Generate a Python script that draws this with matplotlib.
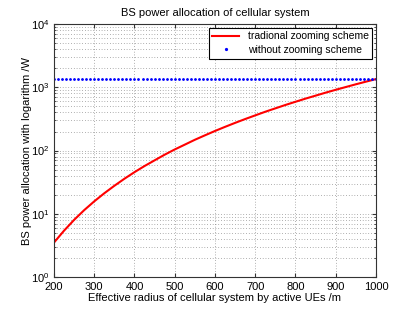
import matplotlib
matplotlib.use("Agg")
import matplotlib.pyplot as plt
import numpy as np
from matplotlib.ticker import LogLocator, MultipleLocator

plt.rcParams['font.family'] = ['Liberation Sans', 'DejaVu Sans']
plt.rcParams['mathtext.fontset'] = 'custom'
plt.rcParams['mathtext.rm'] = 'Liberation Sans'

# Data
radius = [200, 225, 250, 275, 300, 325, 350, 375, 400, 425, 450, 475, 500, 525, 550, 575,
          600, 625, 650, 675, 700, 725, 750, 775, 800, 825, 850, 875, 900, 925, 950, 975, 1000]
power_trad = [3.5, 5.4, 8.0, 11.4, 15.7, 21.1, 27.7, 35.8, 45.5, 56.9, 70.0, 86.0, 104.0, 124.0,
              148.0, 174.0, 204.0, 237.0, 274.0, 315.0, 360.0, 411.0, 465.0, 526.0, 591.0, 663.0,
              739.0, 824.0, 914.0, 1011.0, 1117.0, 1229.0, 1350.0]
radius_flat = list(range(200, 1001, 10))
power_flat_value = 1340.0
power_flat = [power_flat_value] * len(radius_flat)

title = "BS power allocation of cellular system"
xlabel = "Effective radius of cellular system by active UEs /m"
ylabel = "BS power allocation with logarithm /W"
labels = ["tradional zooming scheme", "without zooming scheme"]

fig = plt.figure(figsize=(4.15, 3.13), dpi=100)
ax = fig.add_axes([0.130, 0.115, 0.776, 0.808])

ax.plot(radius, power_trad, color='red', lw=1.5, label=labels[0])
ax.plot(radius_flat, power_flat, ls='none', marker='.', ms=2.0, color='blue', label=labels[1])

ax.set_yscale('log')
ax.set_xlim(200, 1000)
ax.set_ylim(1, 1e4)
ax.xaxis.set_major_locator(MultipleLocator(100))
ax.yaxis.set_major_locator(LogLocator(base=10, numticks=10))
ax.yaxis.set_minor_locator(LogLocator(base=10, subs=np.arange(2, 10), numticks=20))

ax.grid(True, which='major', ls=(0, (1, 3)), color='#666666', lw=0.5)
ax.grid(True, which='minor', axis='y', ls=(0, (1, 3)), color='#666666', lw=0.5)

ax.tick_params(which='both', direction='in', top=True, right=True, labelsize=8, color='#333333')
ax.tick_params(which='major', length=3)
ax.tick_params(which='minor', length=1.5)
for s in ax.spines.values():
    s.set_linewidth(0.8)
    s.set_color('#333333')

ax.set_title(title, fontsize=8, pad=6)
ax.set_xlabel(xlabel, fontsize=8, labelpad=1)
ax.set_ylabel(ylabel, fontsize=8, labelpad=-1)

leg = ax.legend(loc='upper right', fontsize=7.5, fancybox=False, framealpha=1,
                edgecolor='black', borderaxespad=0.35, handlelength=2.6,
                borderpad=0.35, labelspacing=0.35, markerscale=1.3, numpoints=1)
leg.get_frame().set_linewidth(0.8)

fig.savefig("out.png", dpi=100)
